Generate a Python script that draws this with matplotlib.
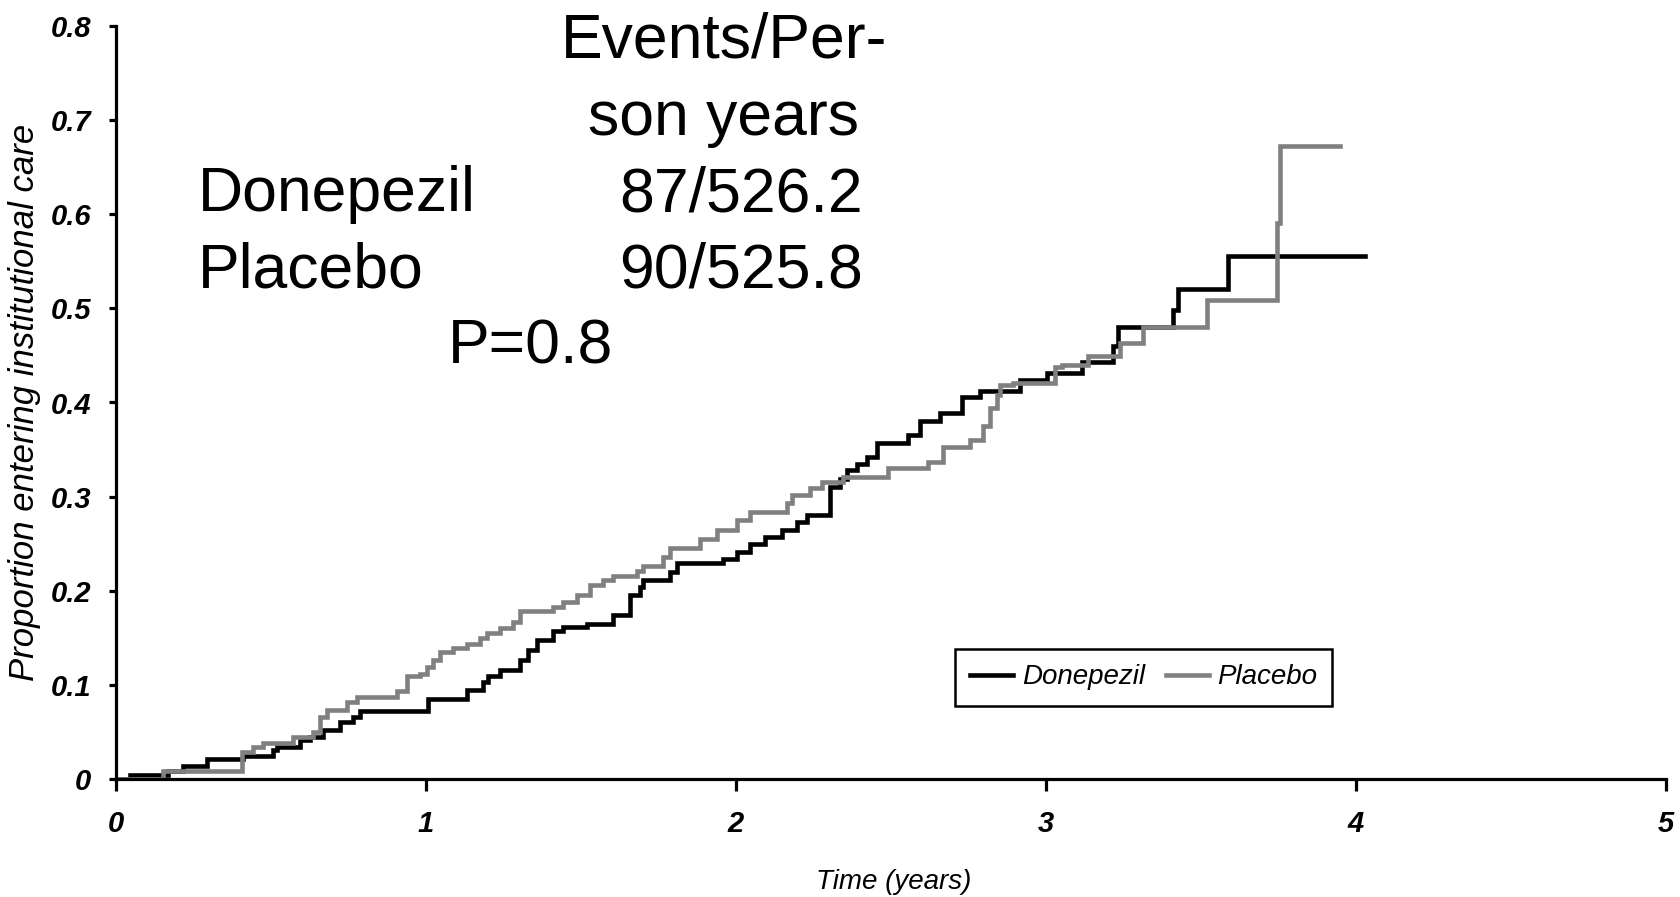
"""
Cumulative proportion entering institutional care, Donepezil vs Placebo
"""

from matplotlib import pyplot as plt

# step points (time in years, cumulative proportion), value holds until the next point
done_t = [0, 0.045, 0.168, 0.216, 0.293, 0.41, 0.507, 0.518, 0.594, 0.626,
          0.668, 0.722, 0.765, 0.787, 1.007, 1.131, 1.185, 1.201, 1.239, 1.303,
          1.330, 1.357, 1.411, 1.443, 1.518, 1.604, 1.658, 1.690, 1.701, 1.787,
          1.809, 1.959, 2.002, 2.045, 2.094, 2.147, 2.196, 2.228, 2.303, 2.335,
          2.357, 2.389, 2.421, 2.454, 2.556, 2.594, 2.658, 2.728, 2.787, 2.916,
          3.002, 3.115, 3.217, 3.233, 3.411, 3.427, 3.588, 4.029]
done_p = [0, 0.004, 0.008, 0.014, 0.021, 0.024, 0.031, 0.034, 0.041, 0.045,
          0.052, 0.061, 0.066, 0.072, 0.085, 0.095, 0.103, 0.109, 0.116, 0.126,
          0.137, 0.148, 0.157, 0.162, 0.165, 0.174, 0.195, 0.204, 0.211, 0.220,
          0.229, 0.234, 0.241, 0.250, 0.257, 0.265, 0.273, 0.280, 0.310, 0.319,
          0.328, 0.335, 0.342, 0.357, 0.365, 0.380, 0.389, 0.406, 0.412, 0.424,
          0.431, 0.4435, 0.460, 0.480, 0.498, 0.521, 0.556, 0.556]

plac_t = [0, 0.152, 0.405, 0.443, 0.475, 0.572, 0.637, 0.658, 0.680, 0.744,
          0.776, 0.905, 0.938, 0.980, 1.002, 1.024, 1.045, 1.088, 1.131, 1.174,
          1.196, 1.239, 1.282, 1.303, 1.411, 1.443, 1.486, 1.529, 1.572, 1.604,
          1.680, 1.701, 1.766, 1.787, 1.884, 1.938, 2.002, 2.045, 2.163, 2.180,
          2.239, 2.276, 2.346, 2.491, 2.620, 2.669, 2.755, 2.798, 2.819, 2.841,
          2.852, 2.894, 3.029, 3.051, 3.136, 3.239, 3.314, 3.518, 3.744, 3.755,
          3.948]
plac_p = [0, 0.009, 0.029, 0.034, 0.038, 0.045, 0.050, 0.066, 0.073, 0.082,
          0.087, 0.094, 0.109, 0.112, 0.119, 0.126, 0.135, 0.139, 0.143, 0.150,
          0.155, 0.160, 0.167, 0.178, 0.183, 0.188, 0.195, 0.206, 0.211, 0.216,
          0.221, 0.226, 0.236, 0.245, 0.255, 0.265, 0.275, 0.284, 0.293, 0.302,
          0.309, 0.316, 0.321, 0.330, 0.337, 0.353, 0.360, 0.375, 0.394, 0.408,
          0.419, 0.421, 0.438, 0.440, 0.4495, 0.463, 0.480, 0.509, 0.591, 0.672,
          0.672]

groups = ["Donepezil", "Placebo"]
events = ["87/526.2", "90/525.8"]
events_head = ["Events/Per-", "son years"]
p_text = "P=0.8"

x_ticks = [0, 1, 2, 3, 4, 5]
y_ticks = [0, 0.1, 0.2, 0.3, 0.4, 0.5, 0.6, 0.7, 0.8]
y_tick_labels = ["0", "0.1", "0.2", "0.3", "0.4", "0.5", "0.6", "0.7", "0.8"]


def main():
    plt.rcParams['font.family'] = ['Liberation Sans', 'DejaVu Sans']

    W, H = 1681, 897
    fig = plt.figure(figsize=(W / 100, H / 100), dpi=100)
    ax = fig.add_axes([116 / W, 1 - 779 / H, 1550 / W, 753 / H])

    ax.plot(done_t, done_p, drawstyle='steps-post', color='black', lw=3.3,
            label=groups[0], solid_joinstyle='miter')
    ax.plot(plac_t, plac_p, drawstyle='steps-post', color='#808080', lw=3.3,
            label=groups[1], solid_joinstyle='miter')

    ax.set_xlim(0, 5)
    ax.set_ylim(0, 0.8)
    ax.spines['top'].set_visible(False)
    ax.spines['right'].set_visible(False)
    for s in ('left', 'bottom'):
        ax.spines[s].set_linewidth(2.3)
        ax.spines[s].set_capstyle('projecting')

    # tick labels in bold italic
    ax.set_xticks(x_ticks)
    ax.set_xticklabels([str(v) for v in x_ticks], fontsize=21, style='italic',
                       weight='bold')
    ax.set_yticks(y_ticks)
    ax.set_yticklabels(y_tick_labels, fontsize=21, style='italic', weight='bold')
    ax.tick_params(axis='x', length=8.5, width=2.3, pad=14)
    ax.tick_params(axis='y', length=5, width=2.3, pad=13)

    ax.set_xlabel("Time (years)", fontsize=20, style='italic', va='center')
    ax.xaxis.set_label_coords((894 - 116) / 1550, (779 - 882) / 753)
    ax.set_ylabel("Proportion entering institutional care", fontsize=25,
                  style='italic', va='center')
    ax.yaxis.set_label_coords((25 - 116) / 1550, 0.5)

    leg = ax.legend(loc='upper left', bbox_to_anchor=((955 - 116) / 1550, (779 - 649) / 753),
                    borderaxespad=0, ncol=2, fancybox=False, framealpha=1,
                    handlelength=1.55, handletextpad=0.3, columnspacing=0.75,
                    borderpad=0.55, prop={'style': 'italic', 'size': 20})
    leg.get_frame().set_edgecolor('black')
    leg.get_frame().set_linewidth(1.8)

    # annotation block: events / person years and p value
    def put(x, y, s, ha):
        fig.text(x / W, 1 - y / H, s, ha=ha, va='baseline', fontsize=45)

    put(724, 57, events_head[0], 'center')
    put(724, 135, events_head[1], 'center')
    put(198, 211, groups[0], 'left')
    put(863, 211, events[0], 'right')
    put(198, 287, groups[1], 'left')
    put(863, 287, events[1], 'right')
    put(531, 363, p_text, 'center')

    plt.savefig('out.png', dpi=100)


if __name__ == "__main__":
    main()
